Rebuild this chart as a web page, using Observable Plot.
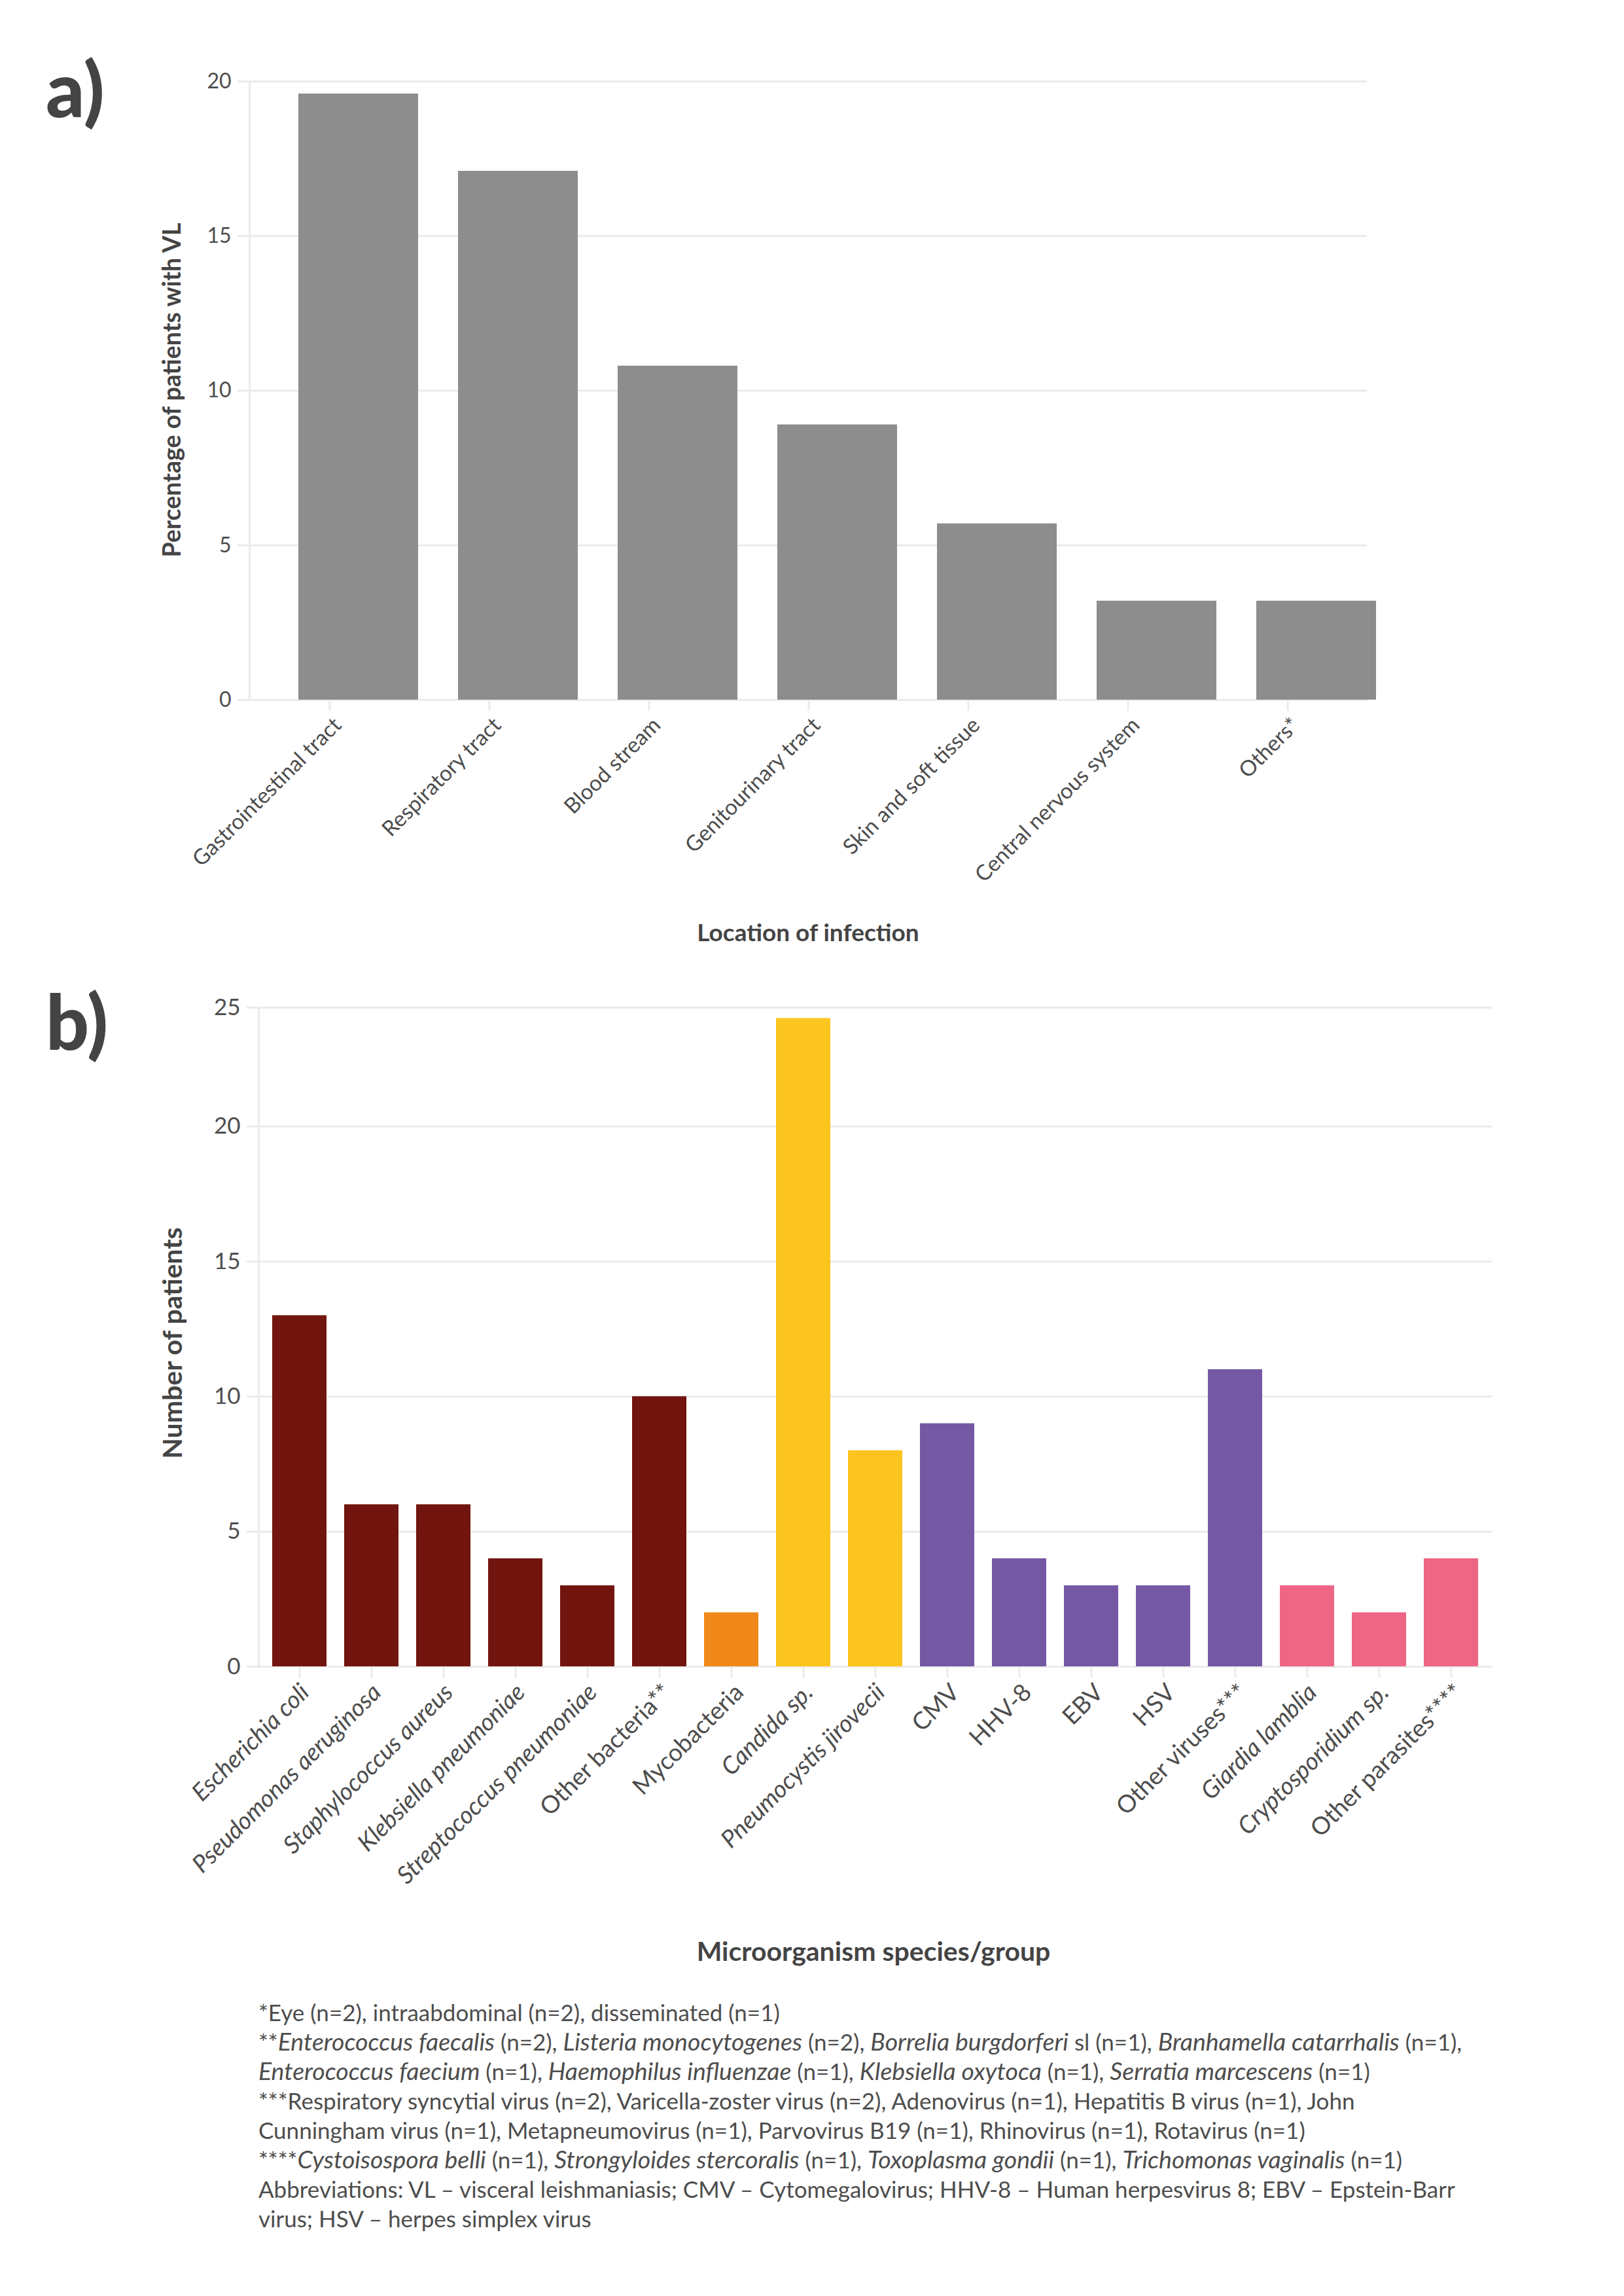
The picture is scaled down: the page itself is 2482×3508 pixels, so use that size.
<!DOCTYPE html>
<html>
<head>
<meta charset="utf-8">
<script src="https://cdn.jsdelivr.net/npm/d3@7"></script>
<script src="https://cdn.jsdelivr.net/npm/@observablehq/plot@0.6"></script>
<style>
  html, body { margin: 0; padding: 0; background: #ffffff; }
  #page { position: relative; width: 2482px; height: 3508px; font-family: Lato, "Noto Sans", sans-serif; color: #4d4d4d; overflow: hidden; }
  .panel { position: absolute; left: 0; }
  .tag { position: absolute; font-weight: 900; font-size: 116px; line-height: 1; color: #444444; }
  .xtitle { position: absolute; width: 1200px; text-align: center; font-weight: 700; line-height: 1; color: #444444; white-space: nowrap; }
  .ytitle { position: absolute; font-weight: 700; line-height: 1; color: #444444; white-space: nowrap; transform: translate(-50%, -50%) rotate(-90deg); }
  #notes { position: absolute; left: 395px; top: 3052px; font-size: 35px; line-height: 45px; color: #4d4d4d; }
  #notes div { white-space: nowrap; }
  #notes i { font-size: 37.5px; line-height: 1; }
</style>
</head>
<body>
<div id="page">
  <div class="tag" style="left:70px; top:77px;">a)</div>
  <div class="tag" style="left:70px; top:1502px;">b)</div>
  <div id="panelA" class="panel" style="top:0px;"></div>
  <div id="panelB" class="panel" style="top:1480px;"></div>
  <div class="ytitle" style="left:262px; top:596px; font-size:37.5px;">Percentage of patients with VL</div>
  <div class="ytitle" style="left:262px; top:2052px; font-size:41px;">Number of patients</div>
  <div class="xtitle" style="left:635px; top:1405px; font-size:37px;">Location of infection</div>
  <div class="xtitle" style="left:735px; top:2960px; font-size:41px;">Microorganism species/group</div>
  <div id="notes">
    <div>*Eye (n=2), intraabdominal (n=2), disseminated (n=1)</div>
    <div>**<i>Enterococcus faecalis</i> (n=2), <i>Listeria monocytogenes</i> (n=2), <i>Borrelia burgdorferi</i> sl (n=1), <i>Branhamella catarrhalis</i> (n=1),</div>
    <div><i>Enterococcus faecium</i> (n=1), <i>Haemophilus influenzae</i> (n=1), <i>Klebsiella oxytoca</i> (n=1), <i>Serratia marcescens</i> (n=1)</div>
    <div>***Respiratory syncytial virus (n=2), Varicella-zoster virus (n=2), Adenovirus (n=1), Hepatitis B virus (n=1), John</div>
    <div>Cunningham virus (n=1), Metapneumovirus (n=1), Parvovirus B19 (n=1), Rhinovirus (n=1), Rotavirus (n=1)</div>
    <div>****<i>Cystoisospora belli</i> (n=1), <i>Strongyloides stercoralis</i> (n=1), <i>Toxoplasma gondii</i> (n=1), <i>Trichomonas vaginalis</i> (n=1)</div>
    <div>Abbreviations: VL – visceral leishmaniasis; CMV – Cytomegalovirus; HHV-8 – Human herpesvirus 8; EBV – Epstein-Barr</div>
    <div>virus; HSV – herpes simplex virus</div>
  </div>
</div>
<script>
// ---------- Panel a data ----------
const locations = ["Gastrointestinal tract", "Respiratory tract", "Blood stream", "Genitourinary tract",
  "Skin and soft tissue", "Central nervous system", "Others*"];
const locationPct = [19.6, 17.1, 10.8, 8.9, 5.7, 3.2, 3.2];
const yTicksA = [0, 5, 10, 15, 20];

// ---------- Panel b data ----------
const organisms = ["Escherichia coli", "Pseudomonas aeruginosa", "Staphylococcus aureus", "Klebsiella pneumoniae",
  "Streptococcus pneumoniae", "Other bacteria**", "Mycobacteria", "Candida sp.", "Pneumocystis jirovecii",
  "CMV", "HHV-8", "EBV", "HSV", "Other viruses***", "Giardia lamblia", "Cryptosporidium sp.", "Other parasites****"];
const patientCounts = [13, 6, 6, 4, 3, 10, 2, 24, 8, 9, 4, 3, 3, 11, 3, 2, 4];
const organismGroups = ["Bacteria", "Bacteria", "Bacteria", "Bacteria", "Bacteria", "Bacteria", "Mycobacteria",
  "Fungi", "Fungi", "Viruses", "Viruses", "Viruses", "Viruses", "Viruses", "Parasites", "Parasites", "Parasites"];
const italicOrganisms = ["Escherichia coli", "Pseudomonas aeruginosa", "Staphylococcus aureus", "Klebsiella pneumoniae",
  "Streptococcus pneumoniae", "Candida sp.", "Pneumocystis jirovecii", "Giardia lamblia", "Cryptosporidium sp."];
const groupNames = ["Bacteria", "Mycobacteria", "Fungi", "Viruses", "Parasites"];
const groupColors = ["#72150f", "#f0891a", "#fcc41e", "#7558a3", "#ee6586"];
const yTopB = 24.4;                       // the top gridline (labelled 25) sits at ~24.4 in the source
const yTickPosB = [0, 5, 10, 15, 20, yTopB];
const yTickLabelsB = ["0", "5", "10", "15", "20", "25"];

const GRID = "#ebebeb";
const INK = "#4d4d4d";
const FONT = "Lato, 'Noto Sans', sans-serif";

// ---------- Panel a ----------
const dataA = locations.map((loc, i) => ({loc, pct: locationPct[i]}));
const plotA = Plot.plot({
  width: 2482, height: 1400,
  marginLeft: 381, marginRight: 393, marginTop: 124, marginBottom: 331,
  style: {fontFamily: FONT, fontSize: "32px", color: INK, background: "transparent", overflow: "visible"},
  x: {domain: locations, paddingInner: 0.25, paddingOuter: 0.125, axis: null},
  y: {domain: [0, 20], axis: null},
  marks: [
    Plot.gridY(yTicksA, {stroke: GRID, strokeOpacity: 1, strokeWidth: 3}),
    Plot.frame({anchor: "left", stroke: GRID, strokeWidth: 3}),
    Plot.axisY(yTicksA, {tickSize: 18, tickPadding: 10, stroke: GRID, strokeWidth: 3, fill: INK, fontSize: 32, label: null}),
    Plot.axisX({tickSize: 17, stroke: GRID, strokeWidth: 3, tickFormat: () => "", label: null}),
    Plot.barY(dataA, {x: "loc", y: "pct", fill: "#8d8d8d", dx: 44}),
    Plot.text(locations, {x: d => d, frameAnchor: "bottom", rotate: -45, textAnchor: "end", lineAnchor: "top",
      dx: 3, dy: 24, fontSize: 33, fill: INK})
  ]
});
document.getElementById("panelA").appendChild(plotA);

// ---------- Panel b ----------
const dataB = organisms.map((name, i) => ({name, n: patientCounts[i], group: organismGroups[i]}));
const plotB = Plot.plot({
  width: 2482, height: 1400,
  marginLeft: 395, marginRight: 202, marginTop: 59, marginBottom: 334,
  style: {fontFamily: FONT, fontSize: "32px", color: INK, background: "transparent", overflow: "visible"},
  x: {domain: organisms, paddingInner: 0.25, paddingOuter: 0.125, axis: null},
  y: {domain: [0, yTopB], axis: null},
  color: {domain: groupNames, range: groupColors},
  marks: [
    Plot.gridY(yTickPosB, {stroke: GRID, strokeOpacity: 1, strokeWidth: 3}),
    Plot.frame({anchor: "left", stroke: GRID, strokeWidth: 3}),
    Plot.axisY(yTickPosB, {tickSize: 18, tickPadding: 10, stroke: GRID, strokeWidth: 3, fill: INK, fontSize: 35,
      tickFormat: d => yTickLabelsB[yTickPosB.indexOf(d)], label: null}),
    Plot.axisX({tickSize: 17, stroke: GRID, strokeWidth: 3, tickFormat: () => "", label: null}),
    Plot.barY(dataB, {x: "name", y: "n", fill: "group"}),
    Plot.text(organisms.filter(d => italicOrganisms.includes(d)), {x: d => d, frameAnchor: "bottom", rotate: -45,
      textAnchor: "end", lineAnchor: "top", dx: -2, dy: 23, fontSize: 37, fontStyle: "italic", fill: INK}),
    Plot.text(organisms.filter(d => !italicOrganisms.includes(d)), {x: d => d, frameAnchor: "bottom", rotate: -45,
      textAnchor: "end", lineAnchor: "top", dx: 2, dy: 23, fontSize: 37, fill: INK})
  ]
});
document.getElementById("panelB").appendChild(plotB);
</script>
</body>
</html>
